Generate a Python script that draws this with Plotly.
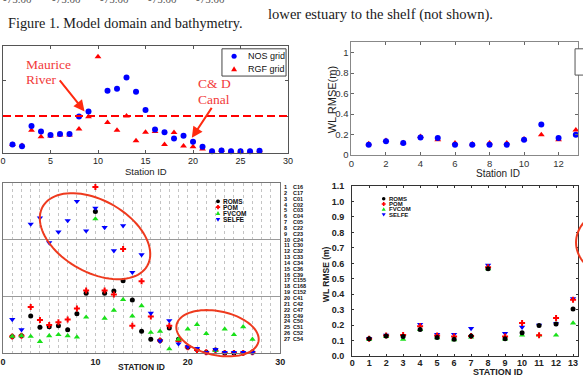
import numpy as np
import plotly.graph_objects as go

W, H = 583, 376

# ---------------- data ----------------
stations_27 = list(range(1, 28))
stations_13 = list(range(1, 14))

# Panel A (top left): NOS grid vs RGF grid
nos_grid = [0.19, 0.14, 0.72, 0.56, 0.46, 0.49, 0.49, 0.99, 1.13, None, 1.72, 1.78, 2.10, 1.69,
            1.17, 0.62, 0.54, 0.36, 0.44, 0.27, 0.13, 0.0, 0.02, 0.0, 0.0, 0.0, 0.01]
rgf_grid = [0.19, 0.16, 0.60, 0.41, 0.43, 0.46, 0.46, 0.63, 0.98, 2.69, 0.82, 0.60, 1.00, 0.30,
            0.54, 0.56, 0.19, 0.53, 0.15, 0.13, 0.06, 0.0, 0.02, 0.0, 0.0, 0.0, 0.01]
threshold_a = 1.0

# Panel B (bottom left): four models
roms_b = [0.30, 0.31, 0.66, 0.46, 0.47, 0.49, 0.42, 0.70, 1.06, 2.50, 1.06, 1.10, 1.28, 0.94,
          0.39, 0.25, 0.23, 0.45, 0.25, 0.11, 0.07, 0.02, 0.06, 0.01, 0.01, 0.01, 0.02]
pom_b = [0.30, 0.31, 0.82, 0.59, 0.50, 0.55, 0.60, 0.79, 1.11, 2.93, 1.11, 1.04, 1.84, 0.49,
         1.27, 0.65, 0.23, 0.49, 0.22, 0.11, 0.06, 0.02, 0.05, 0.01, 0.01, 0.01, 0.02]
fvcom_b = [0.30, 0.31, 0.30, 0.21, 0.31, 0.33, 0.31, 0.29, 0.64, 2.37, 0.62, 0.76, 0.95, 0.66,
           0.84, 0.37, 0.39, 0.08, 0.25, 0.43, 0.51, 0.35, 0.05, 0.43, 0.33, 0.47, 0.25]
selfe_b = [0.60, 0.42, 2.28, 2.39, 1.95, 2.14, 2.34, 2.68, 2.16, 2.56, 2.22, 1.81, 2.25, 1.43,
           1.74, 0.71, 0.22, 0.58, 0.17, 0.12, 0.09, 0.02, 0.07, 0.02, 0.02, 0.02, 0.02]
station_nums = [str(i) for i in range(1, 28)]
station_codes = ["C16", "C17", "C01", "C02", "C03", "C04", "C05", "C22", "C23", "C24", "C30",
                 "C32", "C33", "C34", "C36", "C39", "C155", "C168", "C152", "C41", "C42",
                 "C47", "C49", "C50", "C51", "C52", "C54"]

# Panel C (top right): WL RMSE, NOS grid vs RGF grid
nos_c = [0.10, 0.133, 0.117, 0.171, 0.165, 0.10, 0.10, 0.10, 0.10, 0.149, 0.298, 0.165, 0.197]
rgf_c = [0.11, 0.14, 0.12, 0.18, 0.149, 0.117, 0.107, 0.117, 0.117, 0.155, 0.197, 0.149, 0.244]

# Panel D (bottom right): WL RMSE, four models
roms_d = [0.113, 0.13, 0.126, 0.172, 0.12, 0.109, 0.13, 0.565, 0.113, 0.151, 0.198, 0.208, 0.305]
pom_d = [0.113, 0.134, 0.136, 0.193, 0.134, 0.126, 0.13, 0.575, 0.126, 0.214, 0.135, 0.246, 0.365]
fvcom_d = [0.109, 0.126, 0.109, 0.172, 0.118, 0.105, 0.122, 0.565, 0.11, 0.135, 0.135, 0.135, 0.214]
selfe_d = [0.115, 0.136, 0.13, 0.206, 0.141, 0.141, 0.179, 0.588, 0.147, 0.187, 0.2, 0.21, 0.372]

models = ["ROMS", "POM", "FVCOM", "SELFE"]
ticks_a = [0, 5, 10, 15, 20, 25, 30]
ticks_c = [0, 2, 4, 6, 8, 10, 12]
yticks_c = [0, 0.2, 0.4, 0.6, 0.8, 1]
yticks_d = [round(0.1 * i, 1) for i in range(12)]
ticks_d = list(range(0, 14))

# ---------------- styling helpers ----------------
SANS = "Liberation Sans"
SERIF = "Liberation Serif"
BLUE, RED, GREEN, BLACK = "#0000FF", "#FF0000", "#19E019", "#000000"
ELL = "#EE3A1E"


def px(x):
    return x / W


def py(y):
    return 1 - y / H


def circ(cx, cy, r, color):
    return dict(type="circle", xref="paper", yref="paper", x0=px(cx - r), x1=px(cx + r),
                y0=py(cy + r), y1=py(cy - r), fillcolor=color, line=dict(width=0))


def poly(pts, color, fill=True, width=0):
    d = "M " + " L ".join(f"{px(a):.5f},{py(b):.5f}" for a, b in pts) + " Z"
    return dict(type="path", xref="paper", yref="paper", path=d,
                fillcolor=color if fill else "rgba(0,0,0,0)",
                line=dict(width=width, color=color))


def tri_up(cx, cy, r, color):
    return poly([(cx, cy - r), (cx + r, cy + 0.7 * r), (cx - r, cy + 0.7 * r)], color)


def tri_dn(cx, cy, r, color):
    return poly([(cx, cy + r), (cx + r, cy - 0.7 * r), (cx - r, cy - 0.7 * r)], color)


def plus(cx, cy, r, color):
    t = r * 0.4
    return poly([(cx - t, cy - r), (cx + t, cy - r), (cx + t, cy - t), (cx + r, cy - t),
                 (cx + r, cy + t), (cx + t, cy + t), (cx + t, cy + r), (cx - t, cy + r),
                 (cx - t, cy + t), (cx - r, cy + t), (cx - r, cy - t), (cx - t, cy - t)], color)


def ellipse(cx, cy, a, b, deg, color, width=2):
    th = np.radians(deg)
    t = np.linspace(0, 2 * np.pi, 90, endpoint=False)
    xs = cx + a * np.cos(th) * np.cos(t) - b * np.sin(th) * np.sin(t)
    ys = cy + a * np.sin(th) * np.cos(t) + b * np.cos(th) * np.sin(t)
    return poly(list(zip(xs, ys)), color, fill=False, width=width)


def text(x, y, s, size, color="#222", family=SANS, weight="normal", xanchor="left",
         yanchor="middle", angle=0):
    return dict(x=px(x), y=py(y), xref="paper", yref="paper", text=s, showarrow=False,
                xanchor=xanchor, yanchor=yanchor, textangle=angle,
                font=dict(family=family, size=size, color=color, weight=weight))


fig = go.Figure()

# ---------------- traces ----------------
# Panel A
fig.add_trace(go.Scatter(x=stations_27, y=rgf_grid, mode="markers", name="RGF grid",
                         marker=dict(symbol="triangle-up", size=6, color=RED),
                         xaxis="x", yaxis="y", cliponaxis=False))
fig.add_trace(go.Scatter(x=stations_27, y=nos_grid, mode="markers", name="NOS grid",
                         marker=dict(symbol="circle", size=6, color=BLUE),
                         xaxis="x", yaxis="y", cliponaxis=False))
# Panel B
for vals, sym, col, sz, nm in [(roms_b, "circle", BLACK, 5, "ROMS"),
                               (pom_b, "cross", RED, 5, "POM"),
                               (fvcom_b, "triangle-up", GREEN, 5.5, "FVCOM"),
                               (selfe_b, "triangle-down", BLUE, 5.5, "SELFE")]:
    fig.add_trace(go.Scatter(x=stations_27, y=vals, mode="markers", name=nm,
                             marker=dict(symbol=sym, size=sz, color=col),
                             xaxis="x2", yaxis="y2", cliponaxis=False))
# Panel C
fig.add_trace(go.Scatter(x=stations_13, y=rgf_c, mode="markers", name="RGF grid",
                         marker=dict(symbol="triangle-up", size=6, color=RED),
                         xaxis="x3", yaxis="y3", cliponaxis=False))
fig.add_trace(go.Scatter(x=stations_13, y=nos_c, mode="markers", name="NOS grid",
                         marker=dict(symbol="circle", size=6, color=BLUE),
                         xaxis="x3", yaxis="y3", cliponaxis=False))
# Panel D
for vals, sym, col, sz, nm in [(fvcom_d, "triangle-up", GREEN, 5.5, "FVCOM"),
                               (selfe_d, "triangle-down", BLUE, 5.5, "SELFE"),
                               (pom_d, "cross", RED, 5, "POM"),
                               (roms_d, "circle", BLACK, 5, "ROMS")]:
    fig.add_trace(go.Scatter(x=stations_13, y=vals, mode="markers", name=nm,
                             marker=dict(symbol=sym, size=sz, color=col),
                             xaxis="x4", yaxis="y4", cliponaxis=False))

# ---------------- axes ----------------
common = dict(showgrid=False, zeroline=False, showline=True, linewidth=1)
fig.update_layout(
    width=W, height=H, margin=dict(l=0, r=0, t=0, b=0),
    paper_bgcolor="white", plot_bgcolor="white", showlegend=False,
    xaxis=dict(common, domain=[0, px(289)], range=[0, 30], anchor="y", tickvals=ticks_a,
               ticks="inside", ticklen=3, tickcolor="#555", linecolor="#555", mirror="ticks",
               tickfont=dict(family=SANS, size=9, color="#222"), ticklabelstandoff=-1),
    yaxis=dict(common, domain=[py(152), py(42)], range=[-0.05, 3.0], anchor="x",
               tickvals=[1, 2], showticklabels=False, ticks="inside", ticklen=3,
               tickcolor="#555", linecolor="#555", mirror="ticks"),
    xaxis2=dict(domain=[0, px(281)], range=[0, 30], anchor="y2", tickmode="linear", tick0=0,
                dtick=10, ticks="", showline=True, mirror=True, linecolor="#777",
                showgrid=True, gridcolor="#c4c4c4", griddash="dot", gridwidth=1,
                minor=dict(dtick=1, tick0=0, showgrid=True, gridcolor="#c4c4c4",
                           griddash="dot", ticks=""),
                zeroline=False, tickfont=dict(family=SANS, size=9, color="#222", weight="bold"),
                ticklabelstandoff=0),
    yaxis2=dict(domain=[py(358), py(183)], range=[0, 3], anchor="x2", tickvals=[1, 2],
                showgrid=True, gridcolor="#9a9a9a", gridwidth=1, showticklabels=False,
                ticks="", showline=True, mirror=True, linecolor="#777", zeroline=False),
    xaxis3=dict(common, domain=[px(353.3), 1], range=[0, (583 - 353.3) / 17.5], anchor="y3",
                tickvals=ticks_c, ticks="inside", ticklen=3, tickcolor="#666",
                linecolor="#888", mirror="ticks",
                tickfont=dict(family=SANS, size=9.5, color="#333"), ticklabelstandoff=0),
    yaxis3=dict(common, domain=[py(154), py(38.5)], range=[0, 1.1], anchor="x3",
                tickvals=yticks_c, ticks="inside", ticklen=3, tickcolor="#666",
                linecolor="#888", mirror="ticks",
                tickfont=dict(family=SANS, size=9.5, color="#333"), ticklabelstandoff=0),
    xaxis4=dict(common, domain=[px(354), 1], range=[0, (583 - 354) / 17.23], anchor="y4",
                tickvals=ticks_d, ticks="inside", ticklen=2, tickcolor="#333",
                linecolor="#333", mirror="ticks",
                tickfont=dict(family=SANS, size=9, color="#222", weight="bold"),
                ticklabelstandoff=-2),
    yaxis4=dict(common, domain=[py(360.7), py(186)], range=[0, 1.1], anchor="x4",
                tickvals=yticks_d, tickformat=".1f", ticks="inside", ticklen=2,
                tickcolor="#333", linecolor="#333", mirror="ticks",
                tickfont=dict(family=SANS, size=9, color="#222", weight="bold"),
                ticklabelstandoff=5),
)

# ---------------- shapes ----------------
shapes = []
# threshold dashed line in panel A (data coordinates)
shapes.append(dict(type="line", xref="x", yref="y", x0=0, x1=30, y0=threshold_a,
                   y1=threshold_a, line=dict(color=RED, width=2, dash="8px,4px")))
# Panel A legend box
shapes.append(dict(type="rect", xref="paper", yref="paper", x0=px(222), x1=px(287),
                   y0=py(73), y1=py(45), fillcolor="white", line=dict(color="#444", width=1)))
shapes.append(circ(234.3, 52.7, 2.6, BLUE))
shapes.append(tri_up(234.3, 65.9, 3.0, RED))
# Panel C legend box (cut by page edge)
shapes.append(dict(type="rect", xref="paper", yref="paper", x0=px(580), x1=px(640),
                   y0=py(72), y1=py(45), fillcolor="white", line=dict(color="#555", width=1)))
# Panel B legend symbols
leg_b_y = [201.7, 207.7, 214.0, 220.5]
shapes.append(circ(218, leg_b_y[0], 2.0, BLACK))
shapes.append(plus(218, leg_b_y[1], 2.2, RED))
shapes.append(tri_up(218, leg_b_y[2], 2.3, GREEN))
shapes.append(tri_dn(218, leg_b_y[3], 2.3, BLUE))
# Panel D legend symbols
leg_d_y = [199.0, 204.5, 210.0, 215.3]
shapes.append(circ(386, leg_d_y[0], 1.8, BLACK))
shapes.append(plus(386, leg_d_y[1], 2.0, RED))
shapes.append(tri_up(386, leg_d_y[2], 2.1, GREEN))
shapes.append(tri_dn(386, leg_d_y[3], 2.1, BLUE))
# highlight ellipses
shapes.append(ellipse(93.3, 237.5, 61.1, 36.8, 30.1, ELL))
shapes.append(ellipse(217.5, 337.2, 42.4, 22.6, 11.8, ELL))
shapes.append(ellipse(625, 244, 44, 36, 0, ELL))
fig.update_layout(shapes=shapes)

# ---------------- annotations ----------------
ann = []
# page text
ann.append(text(3, 18, "Figure 1. Model domain and bathymetry.", 14.3, "#1a1a1a", SERIF))
ann.append(text(267, 10, "lower estuary to the shelf (not shown).", 14.6, "#1a1a1a", SERIF))
for cx in [15, 64, 113, 162, 210]:
    ann.append(text(cx, 2, "-75.00", 11, "#555", SERIF, xanchor="center", yanchor="bottom"))
# Panel A
ann.append(text(144.5, 171, "Station ID", 9.5, "#222", xanchor="center"))
ann.append(text(246.5, 52.7, "NOS grid", 9, "#111"))
ann.append(text(246.5, 65.9, "RGF grid", 9, "#111"))
ann.append(text(21.5, 61.5, "Maurice", 13.5, "#F23A3A", SERIF))
ann.append(text(21.5, 76.7, "River", 13.5, "#F23A3A", SERIF))
ann.append(text(196, 81, "C&amp; D", 13.5, "#F23A3A", SERIF))
ann.append(text(196, 96.7, "Canal", 13.5, "#F23A3A", SERIF))
for (hx, hy), (tx, ty) in [((82.7, 109.3), (56.7, 76.7)), ((191.5, 136.5), (212.3, 105))]:
    ann.append(dict(x=px(hx), y=py(hy), xref="paper", yref="paper", text="", showarrow=True,
                    ax=tx - hx, ay=ty - hy, arrowcolor="#FF2A10", arrowwidth=2,
                    arrowhead=2, arrowsize=1.1, standoff=0))
# Panel B
ann.append(text(140, 371.5, "STATION ID", 8.5, "#222", weight="bold", xanchor="center"))
for i, lab in enumerate(models):
    ann.append(text(221.5, leg_b_y[i], lab, 6.5, "#111", weight="bold"))
for i, (n, c) in enumerate(zip(station_nums, station_codes)):
    yy = 187 + 6.0 * i
    ann.append(text(283, yy, n, 5.5, "#111", weight="bold"))
    ann.append(text(291.5, yy, c, 5.5, "#111", weight="bold"))
# Panel C
ann.append(text(333.5, 97, "WL RMSE(m)", 11, "#222", xanchor="center", angle=-90))
ann.append(text(502, 173, "Station ID", 10, "#222", xanchor="center"))
# Panel D
for i, lab in enumerate(models):
    ann.append(text(389, leg_d_y[i], lab, 6, "#111", weight="bold"))
ann.append(text(327, 277, "WL RMSE (m)", 8.5, "#222", weight="bold", xanchor="center",
                angle=-90))
ann.append(text(502, 377, "STATION ID", 9, "#222", weight="bold", xanchor="center"))
fig.update_layout(annotations=ann)

fig.write_html("out.html", config={"displayModeBar": False},
               post_script="document.body.style.margin='0';document.body.style.overflow='hidden';")
